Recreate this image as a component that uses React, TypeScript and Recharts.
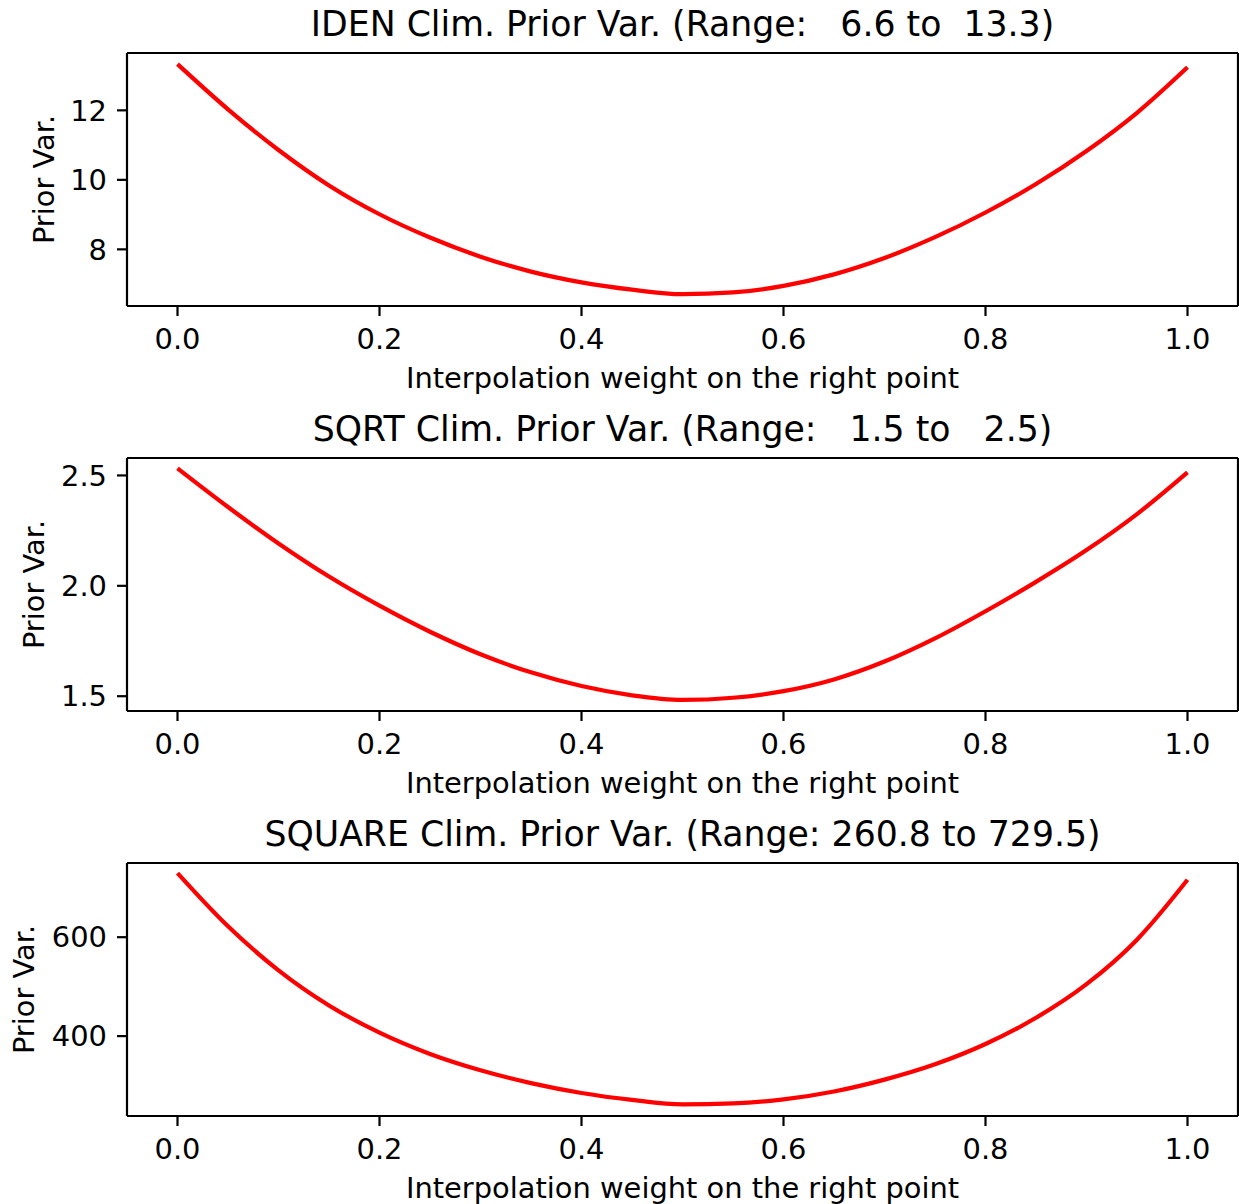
import React from "react";
import { Line, LineChart, XAxis, YAxis } from "recharts";

// interpolation weights on the right point
const weights = [
  0.0, 0.05, 0.1, 0.15, 0.2, 0.25, 0.3, 0.35, 0.4, 0.45, 0.5, 0.55, 0.6, 0.65,
  0.7, 0.75, 0.8, 0.85, 0.9, 0.95, 1.0,
];

// prior variance
const idenVar = [
  13.33, 12.03, 10.86, 9.84, 9.01, 8.34, 7.79, 7.36, 7.05, 6.84, 6.71, 6.76,
  6.95, 7.28, 7.75, 8.35, 9.06, 9.88, 10.83, 11.93, 13.24,
];
const sqrtVar = [
  2.532, 2.357, 2.192, 2.042, 1.91, 1.792, 1.69, 1.608, 1.546, 1.504, 1.483,
  1.493, 1.523, 1.576, 1.657, 1.762, 1.885, 2.018, 2.162, 2.325, 2.514,
];
const squareVar = [
  729.5, 622, 533, 462, 407, 364, 331, 305, 285, 271, 262, 264, 272, 288, 312,
  343, 384, 437, 505, 595, 716,
];

const xTicks = [0, 0.2, 0.4, 0.6, 0.8, 1.0];

const panels = [
  {
    name: "IDEN",
    range: "  6.6 to  13.3",
    values: idenVar,
    domain: [6.37, 13.65],
    ticks: [8, 10, 12],
    fmt: (v: number) => String(v),
    labelX: 54,
  },
  {
    name: "SQRT",
    range: "  1.5 to   2.5",
    values: sqrtVar,
    domain: [1.433, 2.579],
    ticks: [1.5, 2.0, 2.5],
    fmt: (v: number) => v.toFixed(1),
    labelX: 44,
  },
  {
    name: "SQUARE",
    range: "260.8 to 729.5",
    values: squareVar,
    domain: [238.5, 750],
    ticks: [400, 600],
    fmt: (v: number) => String(v),
    labelX: 34,
  },
];

const FONT = "DejaVu Sans";
const TICK = 28.9;
const TITLE = 34.7;
const PANEL_H = 405;
const W = 1239;

const tickStyle = { fill: "#000", fontFamily: FONT, fontSize: TICK };
const lineProps = { stroke: "#000", strokeWidth: 2.2 };

const Panel = ({ p, top }: any) => {
  const data = weights.map((w, i) => ({ w, v: p.values[i] }));
  return (
    <div style={{ position: "absolute", left: 0, top }}>
      <LineChart
        width={W}
        height={PANEL_H}
        data={data}
        margin={{ top: 52, right: 0, bottom: 0, left: 0 }}
      >
        <XAxis
          dataKey="w"
          type="number"
          domain={[-0.05, 1.05]}
          ticks={xTicks}
          tickFormatter={(v: number) => v.toFixed(1)}
          allowDataOverflow
          height={99}
          tickSize={10}
          tickMargin={12}
          tick={tickStyle}
          axisLine={lineProps}
          tickLine={lineProps}
        />
        <XAxis
          xAxisId="top"
          orientation="top"
          dataKey="w"
          type="number"
          domain={[-0.05, 1.05]}
          height={1}
          tick={false}
          tickLine={false}
          axisLine={lineProps}
        />
        <YAxis
          type="number"
          domain={p.domain}
          ticks={p.ticks}
          tickFormatter={p.fmt}
          allowDataOverflow
          width={127}
          tickSize={10}
          tickMargin={10}
          tick={tickStyle}
          axisLine={lineProps}
          tickLine={lineProps}
        />
        <YAxis
          yAxisId="right"
          orientation="right"
          type="number"
          domain={p.domain}
          width={1}
          tick={false}
          tickLine={false}
          axisLine={lineProps}
        />
        <Line
          dataKey="v"
          type="monotone"
          stroke="#ff0000"
          strokeWidth={4.2}
          dot={false}
          isAnimationActive={false}
        />
      </LineChart>
    </div>
  );
};

export default function App() {
  return (
    <div
      style={{
        position: "absolute",
        left: 0,
        top: 0,
        width: W,
        height: 1204,
        background: "#fff",
        overflow: "hidden",
      }}
    >
      {panels.map((p, i) => (
        <Panel key={p.name} p={p} top={i * PANEL_H} />
      ))}
      <svg
        width={W}
        height={1204}
        style={{ position: "absolute", left: 0, top: 0, pointerEvents: "none" }}
      >
        {panels.map((p, i) => {
          const off = i * PANEL_H;
          return (
            <g key={p.name} fontFamily={FONT} fill="#000">
              <text
                x={682.5}
                y={36 + off}
                fontSize={TITLE}
                textAnchor="middle"
                style={{ whiteSpace: "pre" }}
              >
                {`${p.name} Clim. Prior Var. (Range: ${p.range})`}
              </text>
              <text x={682.5} y={388 + off} fontSize={TICK} textAnchor="middle">
                Interpolation weight on the right point
              </text>
              <text
                transform={`translate(${p.labelX}, ${179.5 + off}) rotate(-90)`}
                fontSize={TICK}
                textAnchor="middle"
              >
                Prior Var.
              </text>
            </g>
          );
        })}
      </svg>
    </div>
  );
}
